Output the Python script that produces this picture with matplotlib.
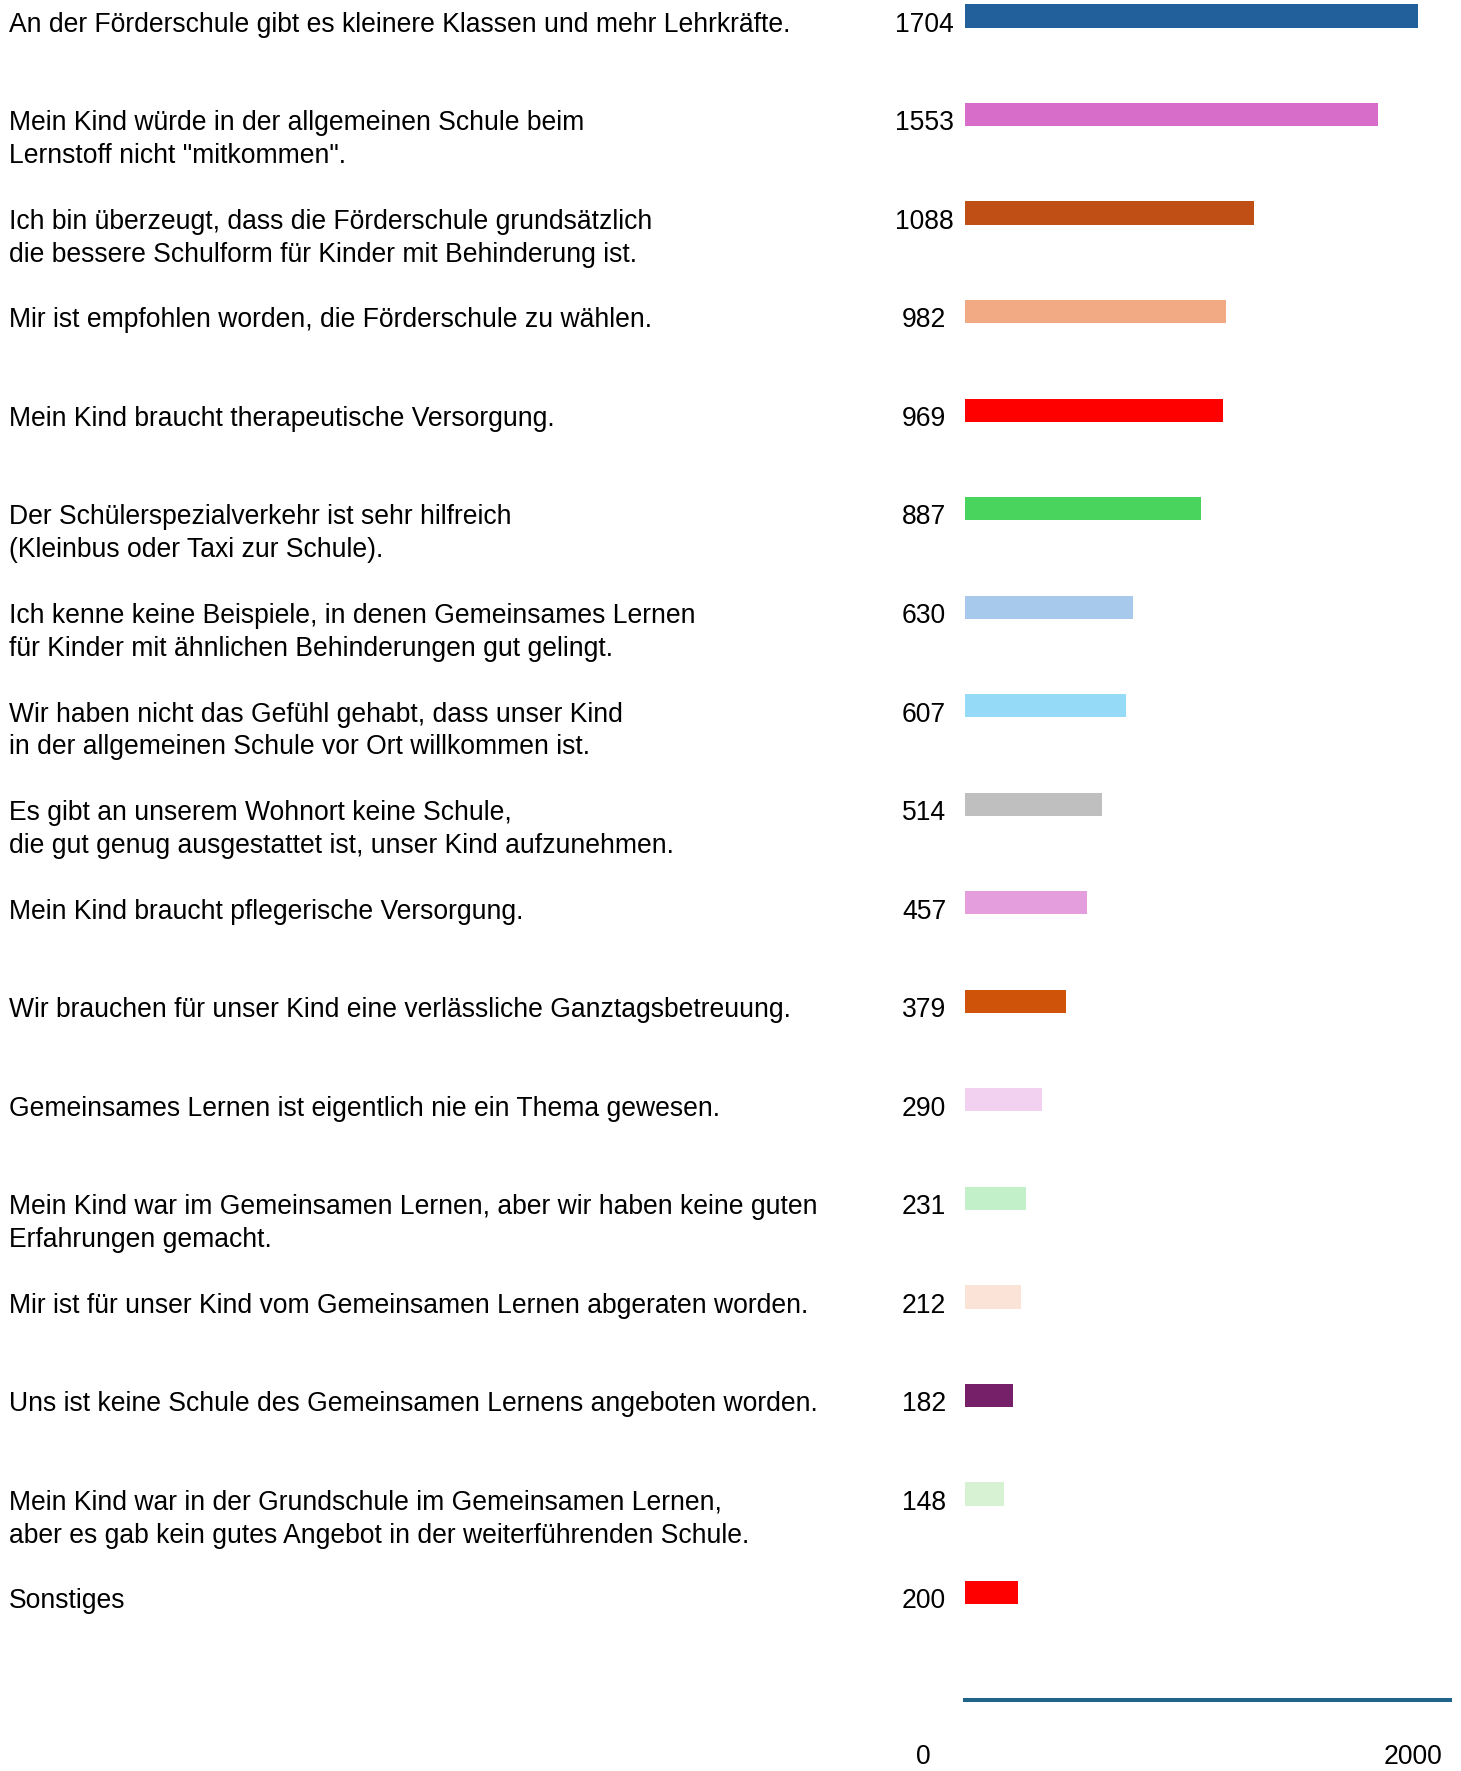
import numpy as np
import matplotlib
matplotlib.use('Agg')
import matplotlib.pyplot as plt
from matplotlib.transforms import blended_transform_factory

plt.rcParams['font.family'] = ['Liberation Sans', 'DejaVu Sans']

# data
labels = [
    'An der Förderschule gibt es kleinere Klassen und mehr Lehrkräfte.',
    'Mein Kind würde in der allgemeinen Schule beim\nLernstoff nicht "mitkommen".',
    'Ich bin überzeugt, dass die Förderschule grundsätzlich\ndie bessere Schulform für Kinder mit Behinderung ist.',
    'Mir ist empfohlen worden, die Förderschule zu wählen.',
    'Mein Kind braucht therapeutische Versorgung.',
    'Der Schülerspezialverkehr ist sehr hilfreich\n(Kleinbus oder Taxi zur Schule).',
    'Ich kenne keine Beispiele, in denen Gemeinsames Lernen\nfür Kinder mit ähnlichen Behinderungen gut gelingt.',
    'Wir haben nicht das Gefühl gehabt, dass unser Kind\nin der allgemeinen Schule vor Ort willkommen ist.',
    'Es gibt an unserem Wohnort keine Schule,\ndie gut genug ausgestattet ist, unser Kind aufzunehmen.',
    'Mein Kind braucht pflegerische Versorgung.',
    'Wir brauchen für unser Kind eine verlässliche Ganztagsbetreuung.',
    'Gemeinsames Lernen ist eigentlich nie ein Thema gewesen.',
    'Mein Kind war im Gemeinsamen Lernen, aber wir haben keine guten\nErfahrungen gemacht.',
    'Mir ist für unser Kind vom Gemeinsamen Lernen abgeraten worden.',
    'Uns ist keine Schule des Gemeinsamen Lernens angeboten worden.',
    'Mein Kind war in der Grundschule im Gemeinsamen Lernen,\naber es gab kein gutes Angebot in der weiterführenden Schule.',
    'Sonstiges',
]
values = [1704, 1553, 1088, 982, 969, 887, 630, 607, 514, 457, 379, 290, 231, 212, 182, 148, 200]
colors = ['#21609b', '#d76dc9', '#c04f15', '#f2aa84', '#ff0000', '#48d45d', '#a6c9ec',
          '#95dbf7', '#bfbfbf', '#e49edd', '#cf540a', '#f2d0f0', '#c2f0c8', '#fbe3d7',
          '#77206a', '#d7f2d2', '#ff0000']
tick_labels = ['0', '2000']

W, H = 1461, 1771
fig = plt.figure(figsize=(W / 100, H / 100), dpi=100)
ax = fig.add_axes([965 / W, 71 / H, (1450 - 965) / W, 1700 / H])

pos = np.arange(len(values))
ax.barh(pos, values, height=0.235, color=colors, clip_on=False)
ax.set_xlim(0, 1823)
ax.set_ylim(17.09, -0.162)

for s in ['top', 'right', 'left']:
    ax.spines[s].set_visible(False)
ax.spines['bottom'].set_color('#21648a')
ax.spines['bottom'].set_linewidth(2.9)
ax.set_xticks([])
ax.set_yticks([])

fs = 19.1
line_step = 0.332
tr = blended_transform_factory(fig.transFigure, ax.transData)
for i, (lab, v) in enumerate(zip(labels, values)):
    for k, line in enumerate(lab.split('\n')):
        ax.text(9 / W, i + 0.16 + k * line_step, line, transform=tr, ha='left',
                va='baseline', fontsize=fs, color='black')
    ax.text(924 / W, i + 0.16, str(v), transform=tr, ha='center', va='baseline',
            fontsize=fs, color='black')

# axis end labels, kept just inside the bottom edge
fig.text(923 / W, 7 / H, tick_labels[0], ha='center', va='baseline', fontsize=fs)
fig.text(1413 / W, 7 / H, tick_labels[1], ha='center', va='baseline', fontsize=fs)

fig.savefig('out.png', dpi=100)
